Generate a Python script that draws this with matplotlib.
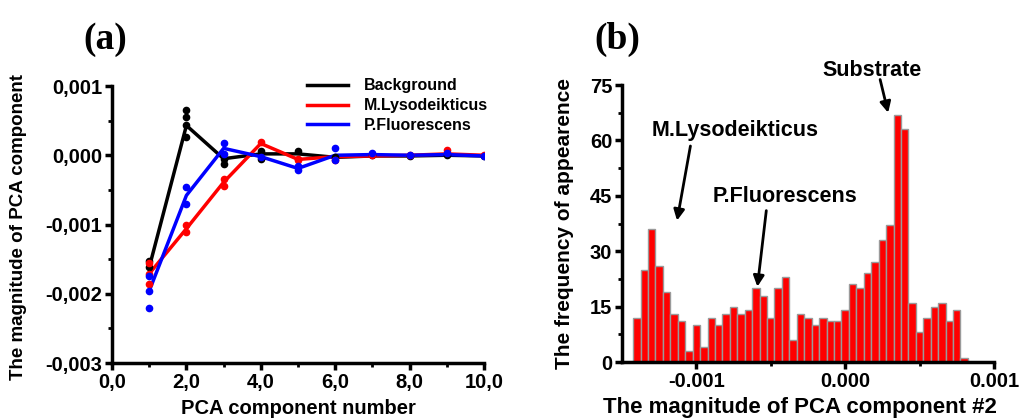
import numpy as np
import matplotlib
matplotlib.use('Agg')
import matplotlib.pyplot as plt
from matplotlib.ticker import MultipleLocator, FixedLocator

plt.rcParams['font.family'] = ['Liberation Sans', 'DejaVu Sans']
plt.rcParams['font.weight'] = 'bold'

# (a) PCA components
comp = [1, 2, 3, 4, 5, 6, 7, 8, 9, 10]
bg_line = [-0.00162, 0.00043, -0.00005, 0.00002, 0.00002, -0.00003, -0.00001, -0.00001, 0.0, -0.00001]
ml_line = [-0.00171, -0.00106, -0.00039, 0.00017, -0.00006, -0.00002, -0.00001, 0.0, 0.00002, 0.0]
pf_line = [-0.00196, -0.00058, 0.00010, -0.00002, -0.00019, 0.0, 0.00001, 0.0, 0.00001, -0.00001]

# replicate points (x, y)
bg_pts_x = [1, 1, 2, 2, 2, 2, 3, 3, 4, 4, 5, 6, 7, 8, 9, 10]
bg_pts_y = [-0.00162, -0.00152, 0.00066, 0.00055, 0.00027, 0.00043, -0.00005, -0.00012, 0.00006, -0.00006, 0.00006, -0.00003, 0.0, -0.00001, 0.0, -0.00001]
ml_pts_x = [1, 1, 1, 2, 2, 3, 3, 4, 5, 5, 6, 7, 8, 9, 10]
ml_pts_y = [-0.00155, -0.00171, -0.00186, -0.00100, -0.00111, -0.00034, -0.00045, 0.00019, -0.00005, -0.00007, -0.00007, 0.0, 0.00001, 0.00008, 0.00001]
pf_pts_x = [1, 1, 1, 2, 2, 3, 3, 4, 5, 5, 6, 6, 7, 8, 9, 10]
pf_pts_y = [-0.00174, -0.00196, -0.00221, -0.00046, -0.00070, 0.00017, 0.00002, -0.00002, -0.00016, -0.00022, 0.00010, -0.00007, 0.00003, 0.0, 0.00003, -0.00001]

left_yticks = [-0.003, -0.002, -0.001, 0.0, 0.001]
left_ylabels = ['-0,003', '-0,002', '-0,001', '0,000', '0,001']
left_xticks = [0, 2, 4, 6, 8, 10]
left_xlabels = ['0,0', '2,0', '4,0', '6,0', '8,0', '10,0']

# (b) histogram
bin_start = -0.0014
bin_width = 0.00005
counts = [12, 25, 36, 26, 19, 13, 11, 3, 10, 4, 12, 10, 13, 15, 13, 14, 20, 18, 12, 20,
          23, 6, 13, 12, 10, 12, 11, 11, 14, 21, 20, 24, 27, 33, 37, 67, 63, 16, 8, 12,
          15, 16, 11, 14, 1]
centers = bin_start + bin_width * np.arange(len(counts))
right_xticks = [-0.001, 0.0, 0.001]
right_xlabels = ['-0.001', '0.000', '0.001']

fig = plt.figure(figsize=(10.23, 4.2), dpi=100)
ax1 = fig.add_axes([0.1095, 0.1357, 0.3636, 0.6595])
ax2 = fig.add_axes([0.608, 0.138, 0.3636, 0.6595])

for ax in (ax1, ax2):
    for s in ['top', 'right']:
        ax.spines[s].set_visible(False)
    for s in ['left', 'bottom']:
        ax.spines[s].set_linewidth(2.5)
    ax.tick_params(which='major', direction='out', length=5, width=2.5, labelsize=14.5, pad=2)
    ax.tick_params(which='minor', direction='out', length=3, width=2)

ax1.plot(comp, bg_line, color='black', lw=2.5, label='Background')
ax1.plot(comp, ml_line, color='red', lw=2.5, label='M.Lysodeikticus')
ax1.plot(comp, pf_line, color='blue', lw=2.5, label='P.Fluorescens')
ax1.plot(bg_pts_x, bg_pts_y, 'o', color='black', ms=4.5)
ax1.plot(ml_pts_x, ml_pts_y, 'o', color='red', ms=4.5)
ax1.plot(pf_pts_x, pf_pts_y, 'o', color='blue', ms=4.5)
ax1.set_xlim(0, 10)
ax1.set_ylim(-0.003, 0.001)
ax1.set_xticks(left_xticks)
ax1.set_xticklabels(left_xlabels)
ax1.set_yticks(left_yticks)
ax1.set_yticklabels(left_ylabels)
ax1.xaxis.set_minor_locator(MultipleLocator(1))
ax1.yaxis.set_minor_locator(MultipleLocator(0.0005))
ax1.set_xlabel('PCA component number', fontsize=14.5, fontweight='bold')
ax1.xaxis.set_label_coords(0.5, -0.13)
ax1.set_ylabel('The magnitude of PCA component', fontsize=13.5, fontweight='bold')
ax1.yaxis.set_label_coords(-0.228, 0.49)
ax1.legend(loc='upper left', bbox_to_anchor=(293 / 1023, 356 / 420), bbox_transform=fig.transFigure,
           frameon=False, handlelength=2.55, handletextpad=1.0, labelspacing=0.3,
           prop={'weight': 'bold', 'size': 11.5})
fig.text(0.103, 0.905, '(a)', family=['Liberation Serif'], fontsize=27, fontweight='bold',
         ha='center', va='center')

ax2.bar(centers, counts, width=bin_width, color='red', edgecolor='#9a9a9a', lw=1)
ax2.set_xlim(-0.0015, 0.001)
ax2.set_ylim(0, 75)
ax2.set_xticks(right_xticks)
ax2.set_xticklabels(right_xlabels)
ax2.set_yticks([0, 15, 30, 45, 60, 75])
ax2.xaxis.set_minor_locator(FixedLocator([-0.0005, 0.0005]))
ax2.yaxis.set_minor_locator(MultipleLocator(7.5))
ax2.set_xlabel('The magnitude of PCA component #2', fontsize=16, fontweight='bold')
ax2.xaxis.set_label_coords(0.478, -0.125)
ax2.set_ylabel('The frequency of appearence', fontsize=15, fontweight='bold')
ax2.yaxis.set_label_coords(-0.129, 0.5)
fig.text(0.603, 0.905, '(b)', family=['Liberation Serif'], fontsize=27, fontweight='bold',
         ha='center', va='center')

akw = dict(arrowstyle='-|>', color='black', lw=2, mutation_scale=16, shrinkA=0, shrinkB=0)
ax2.text(0.000181, 79, 'Substrate', ha='center', va='center', fontsize=15.5, fontweight='bold',
         clip_on=False)
ax2.annotate('', xy=(0.000289, 67.5), xytext=(0.000235, 76.5), arrowprops=akw, annotation_clip=False)
ax2.text(-0.000738, 62.6, 'M.Lysodeikticus', ha='center', va='center', fontsize=15.5, fontweight='bold')
ax2.annotate('', xy=(-0.00113, 38.3), xytext=(-0.00104, 58.5), arrowprops=akw)
ax2.text(-0.000403, 44.8, 'P.Fluorescens', ha='center', va='center', fontsize=15.5, fontweight='bold')
ax2.annotate('', xy=(-0.00059, 20.4), xytext=(-0.00053, 41.0), arrowprops=akw)

fig.savefig('out.png', dpi=100)
